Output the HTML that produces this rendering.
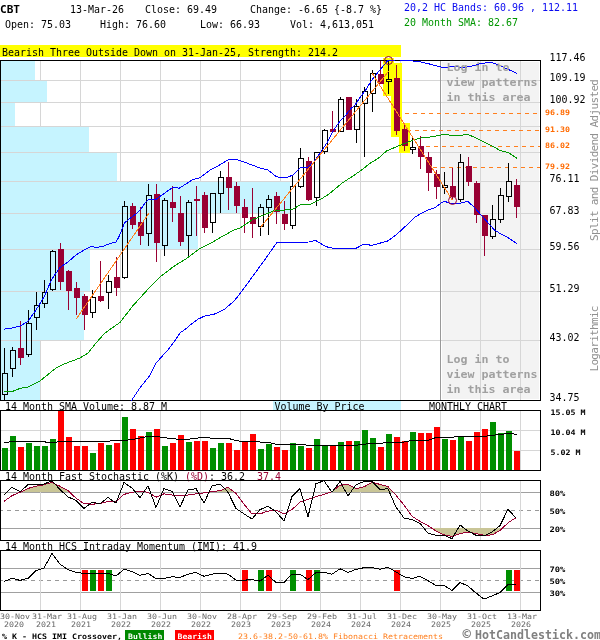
<!DOCTYPE html><html><head><meta charset="utf-8"><title>CBT Monthly Chart</title>
<style>html,body{margin:0;padding:0;background:#fff;width:600px;height:640px;overflow:hidden}svg{display:block;will-change:transform} text{font-family:'DejaVu Sans Mono','Liberation Mono',monospace;white-space:pre}</style></head><body>
<svg width="600" height="640" viewBox="0 0 600 640">
<defs><clipPath id="cm"><rect x="1" y="60" width="540" height="341"/></clipPath><clipPath id="cv"><rect x="1" y="411" width="539" height="59"/></clipPath><clipPath id="cs"><rect x="1" y="481" width="539" height="59"/></clipPath><clipPath id="ci"><rect x="1" y="551" width="539" height="59"/></clipPath></defs>
<text x="0" y="13" font-size="11" fill="#000" font-weight="bold" textLength="20.01" lengthAdjust="spacingAndGlyphs" >CBT</text>
<text x="70" y="13" font-size="11" fill="#000" font-weight="normal" textLength="54" lengthAdjust="spacingAndGlyphs" >13-Mar-26</text>
<text x="145" y="13" font-size="11" fill="#000" font-weight="normal" textLength="72" lengthAdjust="spacingAndGlyphs" >Close: 69.49</text>
<text x="250" y="13" font-size="11" fill="#000" font-weight="normal" textLength="132" lengthAdjust="spacingAndGlyphs" >Change: -6.65 {-8.7 %}</text>
<text x="404" y="11" font-size="11" fill="#0a0af0" font-weight="normal" textLength="174" lengthAdjust="spacingAndGlyphs" >20,2 HC Bands: 60.96 , 112.11</text>
<text x="5" y="28" font-size="11" fill="#000" font-weight="normal" textLength="66" lengthAdjust="spacingAndGlyphs" >Open: 75.03</text>
<text x="100" y="28" font-size="11" fill="#000" font-weight="normal" textLength="66" lengthAdjust="spacingAndGlyphs" >High: 76.60</text>
<text x="200" y="28" font-size="11" fill="#000" font-weight="normal" textLength="60" lengthAdjust="spacingAndGlyphs" >Low: 66.93</text>
<text x="290" y="28" font-size="11" fill="#000" font-weight="normal" textLength="84" lengthAdjust="spacingAndGlyphs" >Vol: 4,613,051</text>
<text x="404" y="26" font-size="11" fill="#009600" font-weight="normal" textLength="114" lengthAdjust="spacingAndGlyphs" >20 Month SMA: 82.67</text>
<rect x="0" y="45" width="401" height="12" fill="#ffff00" />
<text x="2" y="56" font-size="11" fill="#000" font-weight="normal" textLength="336" lengthAdjust="spacingAndGlyphs" >Bearish Three Outside Down on 31-Jan-25, Strength: 214.2</text>
<g shape-rendering="crispEdges">
<rect x="442" y="62" width="97" height="337" fill="#f3f3f3" />
<rect x="1" y="80" width="539" height="1" fill="#d6d6d6" />
<rect x="1" y="102" width="539" height="1" fill="#d6d6d6" />
<rect x="1" y="126" width="539" height="1" fill="#d6d6d6" />
<rect x="1" y="152" width="539" height="1" fill="#d6d6d6" />
<rect x="1" y="181" width="539" height="1" fill="#d6d6d6" />
<rect x="1" y="213" width="539" height="1" fill="#d6d6d6" />
<rect x="1" y="249" width="539" height="1" fill="#d6d6d6" />
<rect x="1" y="291" width="539" height="1" fill="#d6d6d6" />
<rect x="1" y="340" width="539" height="1" fill="#d6d6d6" />
<rect x="40" y="61" width="1" height="339" fill="#d6d6d6" />
<rect x="80" y="61" width="1" height="339" fill="#d6d6d6" />
<rect x="120" y="61" width="1" height="339" fill="#d6d6d6" />
<rect x="160" y="61" width="1" height="339" fill="#d6d6d6" />
<rect x="200" y="61" width="1" height="339" fill="#d6d6d6" />
<rect x="240" y="61" width="1" height="339" fill="#d6d6d6" />
<rect x="280" y="61" width="1" height="339" fill="#d6d6d6" />
<rect x="320" y="61" width="1" height="339" fill="#d6d6d6" />
<rect x="360" y="61" width="1" height="339" fill="#d6d6d6" />
<rect x="400" y="61" width="1" height="339" fill="#d6d6d6" />
<rect x="440" y="61" width="1" height="339" fill="#999999" />
<rect x="480" y="61" width="1" height="339" fill="#d6d6d6" />
<rect x="520" y="61" width="1" height="339" fill="#d6d6d6" />
<rect x="1" y="61" width="34" height="19" fill="#c6f4ff" />
<rect x="1" y="81" width="46" height="21" fill="#c6f4ff" />
<rect x="1" y="103" width="14" height="23" fill="#c6f4ff" />
<rect x="1" y="127" width="88" height="25" fill="#c6f4ff" />
<rect x="1" y="153" width="116" height="28" fill="#c6f4ff" />
<rect x="1" y="182" width="289" height="31" fill="#c6f4ff" />
<rect x="1" y="214" width="197" height="35" fill="#c6f4ff" />
<rect x="1" y="250" width="89" height="41" fill="#c6f4ff" />
<rect x="1" y="292" width="83" height="48" fill="#c6f4ff" />
<rect x="1" y="341" width="39" height="59" fill="#c6f4ff" />
</g>
<line x1="405" y1="113.5" x2="540" y2="113.5" stroke="#ff7f1e" stroke-width="1" stroke-dasharray="4,4" shape-rendering="crispEdges"/>
<line x1="407" y1="130.5" x2="540" y2="130.5" stroke="#ff7f1e" stroke-width="1" stroke-dasharray="4,4" shape-rendering="crispEdges"/>
<line x1="426" y1="146.5" x2="540" y2="146.5" stroke="#ff7f1e" stroke-width="1" stroke-dasharray="4,4" shape-rendering="crispEdges"/>
<line x1="433" y1="167.5" x2="540" y2="167.5" stroke="#ff7f1e" stroke-width="1" stroke-dasharray="4,4" shape-rendering="crispEdges"/>
<g shape-rendering="crispEdges">
<rect x="383" y="58" width="11" height="38" fill="#ffff00" />
<rect x="391" y="63" width="11" height="74" fill="#ffff00" />
<rect x="399" y="123" width="11" height="30" fill="#ffff00" />
</g>
<g shape-rendering="crispEdges">
<rect x="4" y="348" width="1" height="25" fill="#000" />
<rect x="4" y="395" width="1" height="5" fill="#000" />
<rect x="2.5" y="373.5" width="5" height="21" fill="none" stroke="#000" stroke-width="1"/>
<rect x="12" y="347" width="1" height="3" fill="#000" />
<rect x="12" y="369" width="1" height="8" fill="#000" />
<rect x="10.5" y="350.5" width="5" height="18" fill="none" stroke="#000" stroke-width="1"/>
<rect x="20" y="321" width="1" height="44" fill="#990033" />
<rect x="18" y="348" width="6" height="10" fill="#990033" />
<rect x="28" y="310" width="1" height="13" fill="#000" />
<rect x="28" y="355" width="1" height="2" fill="#000" />
<rect x="26.5" y="323.5" width="5" height="31" fill="none" stroke="#000" stroke-width="1"/>
<rect x="36" y="292" width="1" height="13" fill="#000" />
<rect x="36" y="318" width="1" height="12" fill="#000" />
<rect x="34.5" y="305.5" width="5" height="12" fill="none" stroke="#000" stroke-width="1"/>
<rect x="44" y="280" width="1" height="12" fill="#000" />
<rect x="44" y="304" width="1" height="4" fill="#000" />
<rect x="42.5" y="292.5" width="5" height="11" fill="none" stroke="#000" stroke-width="1"/>
<rect x="52" y="250" width="1" height="1" fill="#000" />
<rect x="52" y="290" width="1" height="1" fill="#000" />
<rect x="50.5" y="251.5" width="5" height="38" fill="none" stroke="#000" stroke-width="1"/>
<rect x="60" y="243" width="1" height="47" fill="#990033" />
<rect x="58" y="249" width="6" height="33" fill="#990033" />
<rect x="68" y="270" width="1" height="40" fill="#990033" />
<rect x="66" y="271" width="6" height="20" fill="#990033" />
<rect x="76" y="282" width="1" height="33" fill="#990033" />
<rect x="74" y="288" width="6" height="10" fill="#990033" />
<rect x="84" y="294" width="1" height="36" fill="#990033" />
<rect x="82" y="296" width="6" height="19" fill="#990033" />
<rect x="92" y="290" width="1" height="7" fill="#000" />
<rect x="92" y="313" width="1" height="5" fill="#000" />
<rect x="90.5" y="297.5" width="5" height="15" fill="none" stroke="#000" stroke-width="1"/>
<rect x="100" y="261" width="1" height="41" fill="#990033" />
<rect x="98" y="296" width="6" height="5" fill="#990033" />
<rect x="108" y="275" width="1" height="6" fill="#000" />
<rect x="108" y="293" width="1" height="16" fill="#000" />
<rect x="106.5" y="281.5" width="5" height="11" fill="none" stroke="#000" stroke-width="1"/>
<rect x="116" y="257" width="1" height="39" fill="#990033" />
<rect x="114" y="277" width="6" height="11" fill="#990033" />
<rect x="124" y="201" width="1" height="5" fill="#000" />
<rect x="124" y="278" width="1" height="1" fill="#000" />
<rect x="122.5" y="206.5" width="5" height="71" fill="none" stroke="#000" stroke-width="1"/>
<rect x="132" y="203" width="1" height="26" fill="#990033" />
<rect x="130" y="206" width="6" height="19" fill="#990033" />
<rect x="140" y="207" width="1" height="38" fill="#990033" />
<rect x="138" y="222" width="6" height="14" fill="#990033" />
<rect x="148" y="184" width="1" height="11" fill="#000" />
<rect x="148" y="234" width="1" height="12" fill="#000" />
<rect x="146.5" y="195.5" width="5" height="38" fill="none" stroke="#000" stroke-width="1"/>
<rect x="156" y="184" width="1" height="78" fill="#990033" />
<rect x="154" y="194" width="6" height="49" fill="#990033" />
<rect x="164" y="198" width="1" height="2" fill="#000" />
<rect x="164" y="246" width="1" height="10" fill="#000" />
<rect x="162.5" y="200.5" width="5" height="45" fill="none" stroke="#000" stroke-width="1"/>
<rect x="172" y="186" width="1" height="36" fill="#990033" />
<rect x="170" y="202" width="6" height="6" fill="#990033" />
<rect x="180" y="196" width="1" height="50" fill="#990033" />
<rect x="178" y="213" width="6" height="29" fill="#990033" />
<rect x="188" y="200" width="1" height="2" fill="#000" />
<rect x="188" y="236" width="1" height="20" fill="#000" />
<rect x="186.5" y="202.5" width="5" height="33" fill="none" stroke="#000" stroke-width="1"/>
<rect x="196" y="186" width="1" height="50" fill="#990033" />
<rect x="194" y="199" width="6" height="2" fill="#990033" />
<rect x="204" y="192" width="1" height="41" fill="#990033" />
<rect x="202" y="195" width="6" height="33" fill="#990033" />
<rect x="212" y="223" width="1" height="10" fill="#000" />
<rect x="210.5" y="193.5" width="5" height="29" fill="none" stroke="#000" stroke-width="1"/>
<rect x="220" y="171" width="1" height="6" fill="#000" />
<rect x="220" y="194" width="1" height="19" fill="#000" />
<rect x="218.5" y="177.5" width="5" height="16" fill="none" stroke="#000" stroke-width="1"/>
<rect x="228" y="162" width="1" height="48" fill="#990033" />
<rect x="226" y="177" width="6" height="11" fill="#990033" />
<rect x="236" y="182" width="1" height="31" fill="#990033" />
<rect x="234" y="186" width="6" height="20" fill="#990033" />
<rect x="244" y="199" width="1" height="34" fill="#990033" />
<rect x="242" y="207" width="6" height="11" fill="#990033" />
<rect x="252" y="188" width="1" height="50" fill="#990033" />
<rect x="250" y="217" width="6" height="7" fill="#990033" />
<rect x="260" y="204" width="1" height="3" fill="#000" />
<rect x="260" y="227" width="1" height="9" fill="#000" />
<rect x="258.5" y="207.5" width="5" height="19" fill="none" stroke="#000" stroke-width="1"/>
<rect x="268" y="195" width="1" height="4" fill="#000" />
<rect x="268" y="208" width="1" height="27" fill="#000" />
<rect x="266.5" y="199.5" width="5" height="8" fill="none" stroke="#000" stroke-width="1"/>
<rect x="276" y="192" width="1" height="32" fill="#990033" />
<rect x="274" y="196" width="6" height="16" fill="#990033" />
<rect x="284" y="201" width="1" height="29" fill="#990033" />
<rect x="282" y="214" width="6" height="10" fill="#990033" />
<rect x="292" y="176" width="1" height="10" fill="#000" />
<rect x="292" y="226" width="1" height="3" fill="#000" />
<rect x="290.5" y="186.5" width="5" height="39" fill="none" stroke="#000" stroke-width="1"/>
<rect x="300" y="148" width="1" height="10" fill="#000" />
<rect x="300" y="187" width="1" height="1" fill="#000" />
<rect x="298.5" y="158.5" width="5" height="28" fill="none" stroke="#000" stroke-width="1"/>
<rect x="308" y="157" width="1" height="44" fill="#990033" />
<rect x="306" y="161" width="6" height="39" fill="#990033" />
<rect x="316" y="198" width="1" height="8" fill="#000" />
<rect x="314.5" y="152.5" width="5" height="45" fill="none" stroke="#000" stroke-width="1"/>
<rect x="324" y="129" width="1" height="1" fill="#000" />
<rect x="324" y="152" width="1" height="2" fill="#000" />
<rect x="322.5" y="130.5" width="5" height="21" fill="none" stroke="#000" stroke-width="1"/>
<rect x="332" y="111" width="1" height="22" fill="#990033" />
<rect x="330" y="129" width="6" height="3" fill="#990033" />
<rect x="340" y="97" width="1" height="2" fill="#000" />
<rect x="338.5" y="99.5" width="5" height="32" fill="none" stroke="#000" stroke-width="1"/>
<rect x="348" y="97" width="1" height="33" fill="#990033" />
<rect x="346" y="97" width="6" height="33" fill="#990033" />
<rect x="356" y="99" width="1" height="7" fill="#000" />
<rect x="356" y="130" width="1" height="13" fill="#000" />
<rect x="354.5" y="106.5" width="5" height="23" fill="none" stroke="#000" stroke-width="1"/>
<rect x="364" y="87" width="1" height="4" fill="#000" />
<rect x="364" y="104" width="1" height="53" fill="#000" />
<rect x="362.5" y="91.5" width="5" height="12" fill="none" stroke="#000" stroke-width="1"/>
<rect x="372" y="70" width="1" height="3" fill="#000" />
<rect x="372" y="94" width="1" height="18" fill="#000" />
<rect x="370.5" y="73.5" width="5" height="20" fill="none" stroke="#000" stroke-width="1"/>
<rect x="380" y="61" width="1" height="23" fill="#990033" />
<rect x="378" y="74" width="6" height="10" fill="#990033" />
<rect x="388" y="60" width="1" height="19" fill="#000" />
<rect x="388" y="82" width="1" height="12" fill="#000" />
<rect x="386.5" y="79.5" width="5" height="2" fill="none" stroke="#000" stroke-width="1"/>
<rect x="396" y="65" width="1" height="70" fill="#990033" />
<rect x="394" y="78" width="6" height="53" fill="#990033" />
<rect x="404" y="125" width="1" height="26" fill="#990033" />
<rect x="402" y="129" width="6" height="17" fill="#990033" />
<rect x="412" y="137" width="1" height="10" fill="#000" />
<rect x="412" y="150" width="1" height="4" fill="#000" />
<rect x="410.5" y="147.5" width="5" height="2" fill="none" stroke="#000" stroke-width="1"/>
<rect x="420" y="136" width="1" height="33" fill="#990033" />
<rect x="418" y="146" width="6" height="11" fill="#990033" />
<rect x="428" y="152" width="1" height="39" fill="#990033" />
<rect x="426" y="157" width="6" height="16" fill="#990033" />
<rect x="436" y="170" width="1" height="29" fill="#990033" />
<rect x="434" y="174" width="6" height="13" fill="#990033" />
<rect x="444" y="172" width="1" height="13" fill="#000" />
<rect x="444" y="188" width="1" height="6" fill="#000" />
<rect x="442.5" y="185.5" width="5" height="2" fill="none" stroke="#000" stroke-width="1"/>
<rect x="452" y="168" width="1" height="32" fill="#990033" />
<rect x="450" y="186" width="6" height="11" fill="#990033" />
<rect x="460" y="154" width="1" height="8" fill="#000" />
<rect x="460" y="200" width="1" height="2" fill="#000" />
<rect x="458.5" y="162.5" width="5" height="37" fill="none" stroke="#000" stroke-width="1"/>
<rect x="468" y="157" width="1" height="29" fill="#990033" />
<rect x="466" y="166" width="6" height="16" fill="#990033" />
<rect x="476" y="181" width="1" height="42" fill="#990033" />
<rect x="474" y="183" width="6" height="32" fill="#990033" />
<rect x="484" y="215" width="1" height="41" fill="#990033" />
<rect x="482" y="215" width="6" height="21" fill="#990033" />
<rect x="492" y="205" width="1" height="14" fill="#000" />
<rect x="492" y="237" width="1" height="2" fill="#000" />
<rect x="490.5" y="219.5" width="5" height="17" fill="none" stroke="#000" stroke-width="1"/>
<rect x="500" y="188" width="1" height="7" fill="#000" />
<rect x="500" y="220" width="1" height="3" fill="#000" />
<rect x="498.5" y="195.5" width="5" height="24" fill="none" stroke="#000" stroke-width="1"/>
<rect x="508" y="163" width="1" height="18" fill="#000" />
<rect x="508" y="197" width="1" height="5" fill="#000" />
<rect x="506.5" y="181.5" width="5" height="15" fill="none" stroke="#000" stroke-width="1"/>
<rect x="516" y="179" width="1" height="39" fill="#990033" />
<rect x="514" y="185" width="6" height="22" fill="#990033" />
</g>
<g shape-rendering="crispEdges">
<rect x="0.5" y="60.5" width="540" height="340" fill="none" stroke="#000" stroke-width="1"/>
</g>
<g clip-path="url(#cm)">
<polyline points="4.0,391.6 12.0,391.6 20.0,388.4 28.0,387.0 40.0,381.0 56.0,368.0 64.0,364.0 80.0,358.0 88.0,353.0 96.0,343.0 104.0,334.0 112.0,328.0 120.0,322.5 132.7,306.0 140.0,298.0 150.0,287.0 161.2,275.9 173.8,266.4 186.5,258.5 199.2,249.0 211.8,242.7 221.3,237.0 234.0,230.0 240.0,228.0 252.0,220.0 266.0,214.0 276.0,210.0 285.0,210.0 293.0,209.0 301.0,204.5 309.0,205.0 321.7,198.7 330.0,193.3 341.7,183.3 353.3,175.8 361.7,170.0 370.0,163.3 378.3,158.3 386.7,150.8 396.7,146.7 405.0,143.3 413.3,140.0 423.3,137.5 430.0,137.0 436.0,136.0 444.0,134.4 452.0,135.4 460.0,135.4 468.0,134.4 476.0,138.0 484.0,142.0 492.0,146.0 500.0,150.4 508.0,152.4 517.0,158.4" fill="none" stroke="#009900" stroke-width="1.0" stroke-linejoin="round" shape-rendering="crispEdges" />
<polyline points="4.0,329.2 12.0,328.0 20.0,326.2 28.0,321.2 36.0,310.0 44.0,297.0 52.0,278.8 60.0,267.5 68.0,262.0 76.0,255.0 84.0,250.0 92.0,246.2 96.0,247.6 103.0,246.3 109.9,243.7 116.0,242.0 119.4,235.9 122.0,229.0 124.6,222.9 129.8,218.5 133.3,216.0 137.6,212.5 141.0,209.0 144.5,203.8 148.0,199.8 155.8,199.5 161.9,195.1 168.8,190.0 173.1,187.3 179.2,188.2 186.1,183.9 193.0,179.5 200.0,177.8 210.0,170.0 216.0,167.0 228.0,160.0 236.0,159.4 244.0,162.0 252.0,165.0 260.0,168.0 268.0,170.0 276.0,176.4 282.0,178.0 288.0,177.0 293.0,175.0 300.0,168.0 308.0,167.0 313.3,162.7 321.3,151.3 326.7,143.3 332.5,132.0 338.7,122.7 345.0,116.0 351.0,108.5 354.7,105.3 361.0,96.0 365.3,90.7 371.0,81.0 380.0,69.8 387.5,61.0 396.0,59.8 406.7,60.3 420.0,61.7 430.7,64.3 442.7,67.5 455.0,66.6 464.0,67.5 471.0,66.2 476.0,65.0 481.0,63.3 492.0,62.5 500.0,65.7 510.7,70.5 517.3,73.7" fill="none" stroke="#0000ff" stroke-width="1.0" stroke-linejoin="round" shape-rendering="crispEdges" />
<polyline points="124.0,412.0 131.8,400.0 139.6,388.3 149.0,376.6 156.0,363.3 160.0,358.6 167.8,350.0 175.6,339.8 180.2,332.8 185.7,328.9 191.2,324.2 197.4,319.5 203.7,316.4 215.0,313.9 224.5,309.2 234.0,301.2 240.3,293.3 253.0,275.9 265.7,258.5 276.7,242.7 287.8,242.7 300.0,242.4 308.7,242.0 315.6,240.5 321.7,244.2 328.2,247.4 336.8,248.9 345.5,248.5 356.3,248.1 363.9,244.2 371.5,245.3 380.2,243.1 387.8,240.9 395.3,235.5 401.8,229.7 408.3,223.6 414.8,217.1 422.4,212.8 430.0,209.2 435.6,207.4 440.3,203.6 444.5,201.3 449.7,203.2 460.0,203.2 467.5,201.3 473.8,206.7 480.6,214.5 487.5,222.2 494.4,230.0 501.3,234.2 508.2,237.7 516.8,243.7" fill="none" stroke="#0000ff" stroke-width="1.0" stroke-linejoin="round" shape-rendering="crispEdges" />
<polyline points="76.0,319.3 149.0,213.0" fill="none" stroke="#ff7f1e" stroke-width="1.0" stroke-linejoin="round" shape-rendering="crispEdges" />
<polyline points="260.0,228.0 388.5,71.5" fill="none" stroke="#ff7f1e" stroke-width="1.0" stroke-linejoin="round" shape-rendering="crispEdges" />
<polyline points="372.0,73.0 452.5,200.3" fill="none" stroke="#ff7f1e" stroke-width="1.0" stroke-linejoin="round" shape-rendering="crispEdges" />
</g>
<text x="446.5" y="71" font-size="11" fill="#a0a0a0" font-weight="bold" textLength="63" lengthAdjust="spacingAndGlyphs" >Log in to</text>
<text x="446.5" y="86" font-size="11" fill="#a0a0a0" font-weight="bold" textLength="91" lengthAdjust="spacingAndGlyphs" >view patterns</text>
<text x="446.5" y="100.5" font-size="11" fill="#a0a0a0" font-weight="bold" textLength="84" lengthAdjust="spacingAndGlyphs" >in this area</text>
<text x="446.5" y="363" font-size="11" fill="#a0a0a0" font-weight="bold" textLength="63" lengthAdjust="spacingAndGlyphs" >Log in to</text>
<text x="446.5" y="378" font-size="11" fill="#a0a0a0" font-weight="bold" textLength="91" lengthAdjust="spacingAndGlyphs" >view patterns</text>
<text x="446.5" y="392.5" font-size="11" fill="#a0a0a0" font-weight="bold" textLength="84" lengthAdjust="spacingAndGlyphs" >in this area</text>
<circle cx="388.5" cy="60.5" r="4" fill="none" stroke="#990033" stroke-width="1"/>
<circle cx="452.5" cy="200.5" r="4" fill="none" stroke="#990033" stroke-width="1"/>
<text x="549.5" y="61" font-size="10" fill="#000" font-weight="normal" textLength="36" lengthAdjust="spacingAndGlyphs" >117.46</text>
<text x="549.5" y="81" font-size="10" fill="#000" font-weight="normal" textLength="36" lengthAdjust="spacingAndGlyphs" >109.19</text>
<text x="549.5" y="103" font-size="10" fill="#000" font-weight="normal" textLength="36" lengthAdjust="spacingAndGlyphs" >100.92</text>
<text x="549.5" y="182" font-size="10" fill="#000" font-weight="normal" textLength="30" lengthAdjust="spacingAndGlyphs" >76.11</text>
<text x="549.5" y="214" font-size="10" fill="#000" font-weight="normal" textLength="30" lengthAdjust="spacingAndGlyphs" >67.83</text>
<text x="549.5" y="250" font-size="10" fill="#000" font-weight="normal" textLength="30" lengthAdjust="spacingAndGlyphs" >59.56</text>
<text x="549.5" y="292" font-size="10" fill="#000" font-weight="normal" textLength="30" lengthAdjust="spacingAndGlyphs" >51.29</text>
<text x="549.5" y="341" font-size="10" fill="#000" font-weight="normal" textLength="30" lengthAdjust="spacingAndGlyphs" >43.02</text>
<text x="549.5" y="401" font-size="10" fill="#000" font-weight="normal" textLength="30" lengthAdjust="spacingAndGlyphs" >34.75</text>
<text x="545" y="114.5" font-size="7.5" fill="#ff6a00" font-weight="bold" textLength="25" lengthAdjust="spacingAndGlyphs" >96.89</text>
<text x="545" y="131.5" font-size="7.5" fill="#ff6a00" font-weight="bold" textLength="25" lengthAdjust="spacingAndGlyphs" >91.30</text>
<text x="545" y="147.5" font-size="7.5" fill="#ff6a00" font-weight="bold" textLength="25" lengthAdjust="spacingAndGlyphs" >86.02</text>
<text x="545" y="168.5" font-size="7.5" fill="#ff6a00" font-weight="bold" textLength="25" lengthAdjust="spacingAndGlyphs" >79.92</text>
<text transform="translate(598,241) rotate(-90)" font-size="11" fill="#909090" textLength="162" lengthAdjust="spacing">Split and Dividend Adjusted</text>
<text transform="translate(598,371.5) rotate(-90)" font-size="11" fill="#909090" textLength="66" lengthAdjust="spacing">Logarithmic</text>
<rect x="273" y="401" width="128" height="9" fill="#c6f4ff" shape-rendering="crispEdges"/>
<text x="5" y="409.5" font-size="11" fill="#000" font-weight="normal" textLength="162" lengthAdjust="spacingAndGlyphs" >14 Month SMA Volume: 8.87 M</text>
<text x="274.5" y="409.5" font-size="11" fill="#000" font-weight="normal" textLength="90" lengthAdjust="spacingAndGlyphs" >Volume By Price</text>
<text x="429" y="409.5" font-size="11" fill="#000" font-weight="normal" textLength="78" lengthAdjust="spacingAndGlyphs" >MONTHLY CHART</text>
<g shape-rendering="crispEdges">
<rect x="1" y="430" width="539" height="1" fill="#d6d6d6" />
<rect x="1" y="450" width="539" height="1" fill="#d6d6d6" />
<rect x="40" y="411" width="1" height="59" fill="#d6d6d6" />
<rect x="80" y="411" width="1" height="59" fill="#d6d6d6" />
<rect x="120" y="411" width="1" height="59" fill="#d6d6d6" />
<rect x="160" y="411" width="1" height="59" fill="#d6d6d6" />
<rect x="200" y="411" width="1" height="59" fill="#d6d6d6" />
<rect x="240" y="411" width="1" height="59" fill="#d6d6d6" />
<rect x="280" y="411" width="1" height="59" fill="#d6d6d6" />
<rect x="320" y="411" width="1" height="59" fill="#d6d6d6" />
<rect x="360" y="411" width="1" height="59" fill="#d6d6d6" />
<rect x="400" y="411" width="1" height="59" fill="#d6d6d6" />
<rect x="440" y="411" width="1" height="59" fill="#d6d6d6" />
<rect x="480" y="411" width="1" height="59" fill="#d6d6d6" />
<rect x="520" y="411" width="1" height="59" fill="#d6d6d6" />
<rect x="2" y="448" width="6" height="22" fill="#008f00" />
<rect x="10" y="436" width="6" height="34" fill="#008f00" />
<rect x="18" y="447" width="6" height="23" fill="#ff0000" />
<rect x="26" y="443" width="6" height="27" fill="#008f00" />
<rect x="34" y="446" width="6" height="24" fill="#008f00" />
<rect x="42" y="446" width="6" height="24" fill="#008f00" />
<rect x="50" y="439" width="6" height="31" fill="#008f00" />
<rect x="58" y="411" width="6" height="59" fill="#ff0000" />
<rect x="66" y="437" width="6" height="33" fill="#ff0000" />
<rect x="74" y="446" width="6" height="24" fill="#ff0000" />
<rect x="82" y="446" width="6" height="24" fill="#ff0000" />
<rect x="90" y="453" width="6" height="17" fill="#008f00" />
<rect x="98" y="443" width="6" height="27" fill="#ff0000" />
<rect x="106" y="445" width="6" height="25" fill="#008f00" />
<rect x="114" y="443" width="6" height="27" fill="#ff0000" />
<rect x="122" y="417" width="6" height="53" fill="#008f00" />
<rect x="130" y="429" width="6" height="41" fill="#ff0000" />
<rect x="138" y="436" width="6" height="34" fill="#ff0000" />
<rect x="146" y="432" width="6" height="38" fill="#008f00" />
<rect x="154" y="429" width="6" height="41" fill="#ff0000" />
<rect x="162" y="446" width="6" height="24" fill="#008f00" />
<rect x="170" y="443" width="6" height="27" fill="#ff0000" />
<rect x="178" y="435" width="6" height="35" fill="#ff0000" />
<rect x="186" y="442" width="6" height="28" fill="#008f00" />
<rect x="194" y="441" width="6" height="29" fill="#ff0000" />
<rect x="202" y="441" width="6" height="29" fill="#ff0000" />
<rect x="210" y="448" width="6" height="22" fill="#008f00" />
<rect x="218" y="443" width="6" height="27" fill="#008f00" />
<rect x="226" y="443" width="6" height="27" fill="#ff0000" />
<rect x="234" y="450" width="6" height="20" fill="#ff0000" />
<rect x="242" y="441" width="6" height="29" fill="#ff0000" />
<rect x="250" y="434" width="6" height="36" fill="#ff0000" />
<rect x="258" y="449" width="6" height="21" fill="#008f00" />
<rect x="266" y="444" width="6" height="26" fill="#008f00" />
<rect x="274" y="447" width="6" height="23" fill="#ff0000" />
<rect x="282" y="450" width="6" height="20" fill="#ff0000" />
<rect x="290" y="443" width="6" height="27" fill="#008f00" />
<rect x="298" y="446" width="6" height="24" fill="#008f00" />
<rect x="306" y="448" width="6" height="22" fill="#ff0000" />
<rect x="314" y="439" width="6" height="31" fill="#008f00" />
<rect x="322" y="446" width="6" height="24" fill="#008f00" />
<rect x="330" y="446" width="6" height="24" fill="#ff0000" />
<rect x="338" y="442" width="6" height="28" fill="#008f00" />
<rect x="346" y="441" width="6" height="29" fill="#ff0000" />
<rect x="354" y="441" width="6" height="29" fill="#008f00" />
<rect x="362" y="430" width="6" height="40" fill="#008f00" />
<rect x="370" y="438" width="6" height="32" fill="#008f00" />
<rect x="378" y="447" width="6" height="23" fill="#ff0000" />
<rect x="386" y="434" width="6" height="36" fill="#008f00" />
<rect x="394" y="437" width="6" height="33" fill="#ff0000" />
<rect x="402" y="441" width="6" height="29" fill="#ff0000" />
<rect x="410" y="432" width="6" height="38" fill="#008f00" />
<rect x="418" y="433" width="6" height="37" fill="#ff0000" />
<rect x="426" y="433" width="6" height="37" fill="#ff0000" />
<rect x="434" y="427" width="6" height="43" fill="#ff0000" />
<rect x="442" y="439" width="6" height="31" fill="#008f00" />
<rect x="450" y="440" width="6" height="30" fill="#ff0000" />
<rect x="458" y="436" width="6" height="34" fill="#008f00" />
<rect x="466" y="441" width="6" height="29" fill="#ff0000" />
<rect x="474" y="432" width="6" height="38" fill="#ff0000" />
<rect x="482" y="429" width="6" height="41" fill="#ff0000" />
<rect x="490" y="422" width="6" height="48" fill="#008f00" />
<rect x="498" y="433" width="6" height="37" fill="#008f00" />
<rect x="506" y="431" width="6" height="39" fill="#008f00" />
<rect x="514" y="451" width="6" height="19" fill="#ff0000" />
<rect x="0.5" y="410.5" width="540" height="60" fill="none" stroke="#000" stroke-width="1"/>
</g>
<g clip-path="url(#cv)">
<polyline points="4.0,442.5 8.0,442.5 10.0,441.5 44.0,441.5 47.0,442.5 56.0,442.5 58.0,441.5 100.0,441.6 108.0,441.2 116.0,440.5 124.0,440.3 132.0,439.7 140.0,438.0 148.0,436.5 156.0,436.5 164.0,437.5 172.0,438.7 180.0,439.3 188.0,439.3 196.0,438.3 204.0,437.3 212.0,438.3 228.0,438.3 236.0,440.5 244.0,441.7 260.0,442.0 268.0,442.4 276.0,444.2 300.0,444.5 308.0,445.2 356.0,445.2 364.0,444.2 372.0,443.5 380.0,443.5 388.0,442.0 404.0,442.0 412.0,440.3 428.0,440.3 436.0,437.5 444.0,437.5 452.0,437.2 460.0,436.5 484.0,436.5 492.0,435.3 500.0,434.5 508.0,433.5 516.7,434.2" fill="none" stroke="#000" stroke-width="1.0" stroke-linejoin="round" shape-rendering="crispEdges" />
</g>
<text x="550.5" y="415" font-size="7.5" fill="#000" font-weight="bold" textLength="35" lengthAdjust="spacingAndGlyphs" >15.05 M</text>
<text x="550.5" y="435" font-size="7.5" fill="#000" font-weight="bold" textLength="35" lengthAdjust="spacingAndGlyphs" >10.04 M</text>
<text x="550.5" y="455" font-size="7.5" fill="#000" font-weight="bold" textLength="30" lengthAdjust="spacingAndGlyphs" >5.02 M</text>
<text x="5" y="479.5" font-size="11" fill="#000" font-weight="normal" textLength="180" lengthAdjust="spacingAndGlyphs" >14 Month Fast Stochastic (%K) </text>
<text x="185" y="479.5" font-size="11" fill="#990033" font-weight="normal" textLength="24" lengthAdjust="spacingAndGlyphs" >(%D)</text>
<text x="209" y="479.5" font-size="11" fill="#000" font-weight="normal" textLength="36" lengthAdjust="spacingAndGlyphs" >: 36.2</text>
<text x="257" y="479.5" font-size="11" fill="#990033" font-weight="normal" textLength="24" lengthAdjust="spacingAndGlyphs" >37.4</text>
<g shape-rendering="crispEdges">
<rect x="1" y="492" width="539" height="1" fill="#a0a0a0" />
<rect x="1" y="528" width="539" height="1" fill="#a0a0a0" />
<line x1="1" y1="510.5" x2="540" y2="510.5" stroke="#999" stroke-dasharray="4,4" stroke-dashoffset="2"/>
<rect x="40" y="481" width="1" height="59" fill="#d6d6d6" />
<rect x="80" y="481" width="1" height="59" fill="#d6d6d6" />
<rect x="120" y="481" width="1" height="59" fill="#d6d6d6" />
<rect x="160" y="481" width="1" height="59" fill="#d6d6d6" />
<rect x="200" y="481" width="1" height="59" fill="#d6d6d6" />
<rect x="240" y="481" width="1" height="59" fill="#d6d6d6" />
<rect x="280" y="481" width="1" height="59" fill="#d6d6d6" />
<rect x="320" y="481" width="1" height="59" fill="#d6d6d6" />
<rect x="360" y="481" width="1" height="59" fill="#d6d6d6" />
<rect x="400" y="481" width="1" height="59" fill="#d6d6d6" />
<rect x="440" y="481" width="1" height="59" fill="#d6d6d6" />
<rect x="480" y="481" width="1" height="59" fill="#d6d6d6" />
<rect x="520" y="481" width="1" height="59" fill="#d6d6d6" />
</g>
<g clip-path="url(#cs)">
<polygon points="20.6,492.0 28.0,488.4 36.0,486.3 44.0,484.7 52.0,482.4 60.0,486.3 68.0,490.6 69.5,492.0" fill="#c9c596" stroke="none"/>
<polygon points="134.2,492.0 140.0,491.2 145.8,492.0" fill="#c9c596" stroke="none"/>
<polygon points="209.5,492.0 212.0,491.6 220.0,490.7 228.0,487.3 234.3,492.0" fill="#c9c596" stroke="none"/>
<polygon points="330.9,492.0 332.0,491.6 340.0,485.1 348.0,484.7 356.0,488.6 364.0,486.8 372.0,482.3 380.0,484.4 388.0,486.6 393.0,492.0" fill="#c9c596" stroke="none"/>
<polygon points="431.6,528.0 436.0,531.0 444.0,534.9 452.0,536.4 460.0,533.6 468.0,532.0 476.0,533.6 484.0,535.3 492.0,534.9 500.0,530.6 502.7,528.0" fill="#c9c596" stroke="none"/>
<polyline points="4.0,501.4 12.0,495.6 20.0,492.3 28.0,488.4 36.0,486.3 44.0,484.7 52.0,482.4 60.0,486.3 68.0,490.6 76.0,498.2 84.0,503.6 92.0,504.2 100.0,503.6 108.0,501.4 116.0,501.4 124.0,494.4 132.0,492.3 140.0,491.2 148.0,492.3 156.0,497.2 164.0,493.8 172.0,495.0 180.0,495.5 188.0,495.0 196.0,493.8 204.0,492.9 212.0,491.6 220.0,490.7 228.0,487.3 236.0,493.3 244.0,504.2 252.0,513.9 260.0,513.9 268.0,511.1 276.0,510.2 284.0,513.9 292.0,509.6 300.0,502.0 308.0,499.4 316.0,496.6 324.0,494.4 332.0,491.6 340.0,485.1 348.0,484.7 356.0,488.6 364.0,486.8 372.0,482.3 380.0,484.4 388.0,486.6 396.0,495.3 404.0,505.0 412.0,516.3 420.0,521.3 428.0,525.6 436.0,531.0 444.0,534.9 452.0,536.4 460.0,533.6 468.0,532.0 476.0,533.6 484.0,535.3 492.0,534.9 500.0,530.6 508.0,522.8 516.0,517.6" fill="none" stroke="#990033" stroke-width="1.0" stroke-linejoin="round" shape-rendering="crispEdges" />
<polyline points="4.0,495.0 12.0,487.3 20.0,491.7 28.0,484.7 36.0,484.7 44.0,484.0 52.0,480.8 60.0,489.5 68.0,497.0 76.0,500.3 84.0,508.4 92.0,502.5 100.0,503.6 108.0,497.5 116.0,503.0 124.0,482.5 132.0,488.0 140.0,497.7 148.0,485.8 156.0,507.4 164.0,488.6 172.0,491.2 180.0,506.8 188.0,490.0 196.0,488.6 204.0,503.0 212.0,485.8 220.0,484.2 228.0,492.3 236.0,508.5 244.0,513.9 252.0,518.9 260.0,509.6 268.0,506.3 276.0,511.8 284.0,520.9 292.0,496.6 300.0,488.6 308.0,516.7 316.0,483.6 324.0,480.8 332.0,492.3 340.0,481.4 348.0,495.9 356.0,484.7 364.0,481.6 372.0,481.6 380.0,489.4 388.0,488.8 396.0,507.2 404.0,518.0 412.0,519.7 420.0,523.4 428.0,533.2 436.0,535.3 444.0,535.3 452.0,538.6 460.0,525.0 468.0,531.0 476.0,535.3 484.0,535.8 492.0,532.0 500.0,525.6 508.0,509.3 516.0,518.0" fill="none" stroke="#000" stroke-width="1.0" stroke-linejoin="round" shape-rendering="crispEdges" />
</g>
<rect x="0.5" y="480.5" width="540" height="60" fill="none" stroke="#000" stroke-width="1" shape-rendering="crispEdges"/>
<text x="549.5" y="495.5" font-size="7.5" fill="#000" font-weight="bold" textLength="15.9" lengthAdjust="spacingAndGlyphs" >80%</text>
<text x="549.5" y="513.5" font-size="7.5" fill="#000" font-weight="bold" textLength="15.9" lengthAdjust="spacingAndGlyphs" >50%</text>
<text x="549.5" y="531.5" font-size="7.5" fill="#000" font-weight="bold" textLength="15.9" lengthAdjust="spacingAndGlyphs" >20%</text>
<text x="5" y="549.5" font-size="11" fill="#000" font-weight="normal" textLength="252" lengthAdjust="spacingAndGlyphs" >14 Month HCS Intraday Momentum (IMI): 41.9</text>
<g shape-rendering="crispEdges">
<rect x="1" y="568" width="539" height="1" fill="#a0a0a0" />
<rect x="1" y="592" width="539" height="1" fill="#a0a0a0" />
<line x1="1" y1="580.5" x2="540" y2="580.5" stroke="#999" stroke-dasharray="4,4" stroke-dashoffset="2"/>
<rect x="40" y="551" width="1" height="59" fill="#d6d6d6" />
<rect x="80" y="551" width="1" height="59" fill="#d6d6d6" />
<rect x="120" y="551" width="1" height="59" fill="#d6d6d6" />
<rect x="160" y="551" width="1" height="59" fill="#d6d6d6" />
<rect x="200" y="551" width="1" height="59" fill="#d6d6d6" />
<rect x="240" y="551" width="1" height="59" fill="#d6d6d6" />
<rect x="280" y="551" width="1" height="59" fill="#d6d6d6" />
<rect x="320" y="551" width="1" height="59" fill="#d6d6d6" />
<rect x="360" y="551" width="1" height="59" fill="#d6d6d6" />
<rect x="400" y="551" width="1" height="59" fill="#d6d6d6" />
<rect x="440" y="551" width="1" height="59" fill="#d6d6d6" />
<rect x="480" y="551" width="1" height="59" fill="#d6d6d6" />
<rect x="520" y="551" width="1" height="59" fill="#d6d6d6" />
<rect x="82" y="570" width="6" height="21" fill="#ff0000" />
<rect x="90" y="570" width="6" height="21" fill="#008f00" />
<rect x="98" y="570" width="6" height="21" fill="#ff0000" />
<rect x="106" y="570" width="6" height="21" fill="#008f00" />
<rect x="242" y="570" width="6" height="21" fill="#ff0000" />
<rect x="258" y="570" width="6" height="21" fill="#008f00" />
<rect x="266" y="570" width="6" height="21" fill="#ff0000" />
<rect x="290" y="570" width="6" height="21" fill="#008f00" />
<rect x="306" y="570" width="6" height="21" fill="#ff0000" />
<rect x="314" y="570" width="6" height="21" fill="#008f00" />
<rect x="394" y="570" width="6" height="21" fill="#ff0000" />
<rect x="506" y="570" width="6" height="21" fill="#008f00" />
<rect x="514" y="570" width="6" height="21" fill="#ff0000" />
</g>
<g clip-path="url(#ci)">
<polyline points="4.0,581.5 12.0,578.3 20.0,580.4 28.0,578.3 36.0,570.7 44.0,568.1 52.0,553.3 60.0,564.2 68.0,569.6 76.0,572.4 84.0,573.3 92.0,573.3 100.0,573.3 108.0,573.3 116.0,576.1 124.0,569.2 132.0,571.6 140.0,575.3 148.0,573.5 156.0,578.5 164.0,578.5 172.0,576.8 180.0,577.4 188.0,574.2 196.0,572.4 204.0,576.3 212.0,574.2 220.0,573.1 228.0,574.2 236.0,580.2 244.0,580.2 252.0,579.6 260.0,581.1 268.0,575.3 276.0,582.4 284.0,582.4 292.0,574.2 300.0,574.2 308.0,579.6 316.0,572.4 324.0,572.4 332.0,574.2 340.0,568.8 348.0,572.4 356.0,569.4 364.0,567.7 372.0,567.7 380.0,569.2 388.0,567.2 396.0,572.0 404.0,576.8 412.0,578.5 420.0,576.3 428.0,580.7 436.0,585.4 444.0,585.4 452.0,590.4 460.0,582.4 468.0,586.1 476.0,593.0 484.0,599.0 492.0,596.0 500.0,592.4 508.0,584.4 516.0,584.4" fill="none" stroke="#000" stroke-width="1.0" stroke-linejoin="round" shape-rendering="crispEdges" />
</g>
<rect x="0.5" y="550.5" width="540" height="60" fill="none" stroke="#000" stroke-width="1" shape-rendering="crispEdges"/>
<text x="549.5" y="571.5" font-size="7.5" fill="#000" font-weight="bold" textLength="15.9" lengthAdjust="spacingAndGlyphs" >70%</text>
<text x="549.5" y="583.5" font-size="7.5" fill="#000" font-weight="bold" textLength="15.9" lengthAdjust="spacingAndGlyphs" >50%</text>
<text x="549.5" y="595.5" font-size="7.5" fill="#000" font-weight="bold" textLength="15.9" lengthAdjust="spacingAndGlyphs" >30%</text>
<text x="0" y="619" font-size="7.5" fill="#666666" font-weight="normal" textLength="30" lengthAdjust="spacingAndGlyphs" >30-Nov</text>
<text x="4" y="627" font-size="7.5" fill="#666666" font-weight="normal" textLength="20" lengthAdjust="spacingAndGlyphs" >2020</text>
<text x="32" y="619" font-size="7.5" fill="#666666" font-weight="normal" textLength="30" lengthAdjust="spacingAndGlyphs" >31-Mar</text>
<text x="36" y="627" font-size="7.5" fill="#666666" font-weight="normal" textLength="20" lengthAdjust="spacingAndGlyphs" >2021</text>
<text x="67" y="619" font-size="7.5" fill="#666666" font-weight="normal" textLength="30" lengthAdjust="spacingAndGlyphs" >31-Aug</text>
<text x="71" y="627" font-size="7.5" fill="#666666" font-weight="normal" textLength="20" lengthAdjust="spacingAndGlyphs" >2021</text>
<text x="107" y="619" font-size="7.5" fill="#666666" font-weight="normal" textLength="30" lengthAdjust="spacingAndGlyphs" >31-Jan</text>
<text x="111" y="627" font-size="7.5" fill="#666666" font-weight="normal" textLength="20" lengthAdjust="spacingAndGlyphs" >2022</text>
<text x="147" y="619" font-size="7.5" fill="#666666" font-weight="normal" textLength="30" lengthAdjust="spacingAndGlyphs" >30-Jun</text>
<text x="151" y="627" font-size="7.5" fill="#666666" font-weight="normal" textLength="20" lengthAdjust="spacingAndGlyphs" >2022</text>
<text x="187" y="619" font-size="7.5" fill="#666666" font-weight="normal" textLength="30" lengthAdjust="spacingAndGlyphs" >30-Nov</text>
<text x="191" y="627" font-size="7.5" fill="#666666" font-weight="normal" textLength="20" lengthAdjust="spacingAndGlyphs" >2022</text>
<text x="227" y="619" font-size="7.5" fill="#666666" font-weight="normal" textLength="30" lengthAdjust="spacingAndGlyphs" >28-Apr</text>
<text x="231" y="627" font-size="7.5" fill="#666666" font-weight="normal" textLength="20" lengthAdjust="spacingAndGlyphs" >2023</text>
<text x="267" y="619" font-size="7.5" fill="#666666" font-weight="normal" textLength="30" lengthAdjust="spacingAndGlyphs" >29-Sep</text>
<text x="271" y="627" font-size="7.5" fill="#666666" font-weight="normal" textLength="20" lengthAdjust="spacingAndGlyphs" >2023</text>
<text x="307" y="619" font-size="7.5" fill="#666666" font-weight="normal" textLength="30" lengthAdjust="spacingAndGlyphs" >29-Feb</text>
<text x="311" y="627" font-size="7.5" fill="#666666" font-weight="normal" textLength="20" lengthAdjust="spacingAndGlyphs" >2024</text>
<text x="347" y="619" font-size="7.5" fill="#666666" font-weight="normal" textLength="30" lengthAdjust="spacingAndGlyphs" >31-Jul</text>
<text x="351" y="627" font-size="7.5" fill="#666666" font-weight="normal" textLength="20" lengthAdjust="spacingAndGlyphs" >2024</text>
<text x="387" y="619" font-size="7.5" fill="#666666" font-weight="normal" textLength="30" lengthAdjust="spacingAndGlyphs" >31-Dec</text>
<text x="391" y="627" font-size="7.5" fill="#666666" font-weight="normal" textLength="20" lengthAdjust="spacingAndGlyphs" >2024</text>
<text x="427" y="619" font-size="7.5" fill="#666666" font-weight="normal" textLength="30" lengthAdjust="spacingAndGlyphs" >30-May</text>
<text x="431" y="627" font-size="7.5" fill="#666666" font-weight="normal" textLength="20" lengthAdjust="spacingAndGlyphs" >2025</text>
<text x="467" y="619" font-size="7.5" fill="#666666" font-weight="normal" textLength="30" lengthAdjust="spacingAndGlyphs" >31-Oct</text>
<text x="471" y="627" font-size="7.5" fill="#666666" font-weight="normal" textLength="20" lengthAdjust="spacingAndGlyphs" >2025</text>
<text x="507" y="619" font-size="7.5" fill="#666666" font-weight="normal" textLength="30" lengthAdjust="spacingAndGlyphs" >13-Mar</text>
<text x="511" y="627" font-size="7.5" fill="#666666" font-weight="normal" textLength="20" lengthAdjust="spacingAndGlyphs" >2026</text>
<text x="2" y="638.5" font-size="7.5" fill="#000" font-weight="bold" textLength="120" lengthAdjust="spacingAndGlyphs" >% K - HCS IMI Crossover,</text>
<rect x="125" y="630" width="39" height="10" fill="#008800" shape-rendering="crispEdges"/>
<text x="128" y="638.5" font-size="7.5" fill="#fff" font-weight="bold" textLength="34.3" lengthAdjust="spacingAndGlyphs" >Bullish</text>
<rect x="175" y="630" width="39" height="10" fill="#ff0000" shape-rendering="crispEdges"/>
<text x="177.5" y="638.5" font-size="7.5" fill="#fff" font-weight="bold" textLength="34.3" lengthAdjust="spacingAndGlyphs" >Bearish</text>
<text x="238" y="638.5" font-size="7.5" fill="#ff7f1e" font-weight="normal" textLength="205" lengthAdjust="spacingAndGlyphs" >23.6-38.2-50-61.8% Fibonacci Retracements</text>
<text x="462.5" y="638.5" font-size="14" fill="#808080" font-weight="bold" textLength="8.4" lengthAdjust="spacing" >©</text>
<text x="475" y="639" font-size="12" fill="#808080" font-weight="bold" textLength="126" lengthAdjust="spacingAndGlyphs" >HotCandlestick.com</text>
</svg></body></html>
